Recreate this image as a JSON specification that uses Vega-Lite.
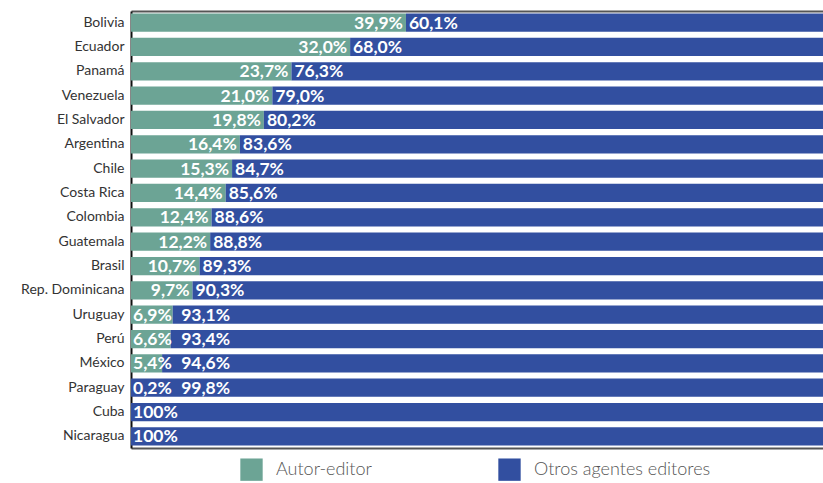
{
  "$schema": "https://vega.github.io/schema/vega-lite/v6.json",
  "width": 692,
  "height": 437,
  "autosize": "none",
  "padding": {"left": 131, "top": 11, "right": 0, "bottom": 35},
  "background": "white",
  "config": {
    "locale": {"number": {"decimal": ",", "thousands": ".", "grouping": [3], "currency": ["", " €"]}},
    "view": {"stroke": null},
    "font": "Lato"
  },
  "data": {
    "values": [
      {"pais": "Bolivia", "autor": 0.399, "otros": 0.601},
      {"pais": "Ecuador", "autor": 0.320, "otros": 0.680},
      {"pais": "Panamá", "autor": 0.237, "otros": 0.763},
      {"pais": "Venezuela", "autor": 0.210, "otros": 0.790},
      {"pais": "El Salvador", "autor": 0.198, "otros": 0.802},
      {"pais": "Argentina", "autor": 0.164, "otros": 0.836},
      {"pais": "Chile", "autor": 0.153, "otros": 0.847},
      {"pais": "Costa Rica", "autor": 0.144, "otros": 0.856},
      {"pais": "Colombia", "autor": 0.124, "otros": 0.886},
      {"pais": "Guatemala", "autor": 0.122, "otros": 0.888},
      {"pais": "Brasil", "autor": 0.107, "otros": 0.893},
      {"pais": "Rep. Dominicana", "autor": 0.097, "otros": 0.903},
      {"pais": "Uruguay", "autor": 0.069, "otros": 0.931},
      {"pais": "Perú", "autor": 0.066, "otros": 0.934},
      {"pais": "México", "autor": 0.054, "otros": 0.946},
      {"pais": "Paraguay", "autor": 0.002, "otros": 0.998},
      {"pais": "Cuba", "autor": 0, "otros": 1},
      {"pais": "Nicaragua", "autor": 0, "otros": 1}
    ]
  },
  "encoding": {
    "y": {
      "field": "pais",
      "type": "nominal",
      "sort": null,
      "scale": {"paddingInner": 0.25, "paddingOuter": 0.1},
      "axis": {
        "title": null,
        "ticks": false,
        "domainColor": "#111111",
        "domainWidth": 2,
        "labelFont": "Lato",
        "labelFontSize": 14,
        "labelColor": "#333333",
        "labelPadding": 7
      }
    }
  },
  "layer": [
    {
      "mark": {"type": "bar", "clip": true},
      "encoding": {
        "x": {
          "field": "autor",
          "type": "quantitative",
          "scale": {"domain": [0.01, 0.989], "nice": false, "zero": false},
          "axis": {"orient": "bottom", "title": null, "labels": false, "ticks": false, "grid": false, "domainColor": "#555555", "domainWidth": 2}
        },
        "x2": {"datum": 0},
        "color": {
          "datum": "Autor-editor",
          "type": "nominal",
          "scale": {"domain": ["Autor-editor", "Otros agentes editores"], "range": ["#6CA495", "#324FA0"]},
          "legend": {
            "title": null,
            "orient": "none",
            "direction": "horizontal",
            "legendX": 109,
            "legendY": 447,
            "symbolType": "square",
            "symbolSize": 500,
            "symbolStrokeWidth": 0,
            "labelFont": "Lato",
            "labelFontSize": 18,
            "labelFontWeight": 300,
            "labelColor": "#555555",
            "labelOffset": 13,
            "labelLimit": 0,
            "columnPadding": 126
          }
        }
      }
    },
    {
      "mark": {"type": "bar", "clip": true},
      "encoding": {
        "x": {
          "field": "autor",
          "type": "quantitative",
          "axis": {"orient": "top", "title": null, "labels": false, "ticks": false, "grid": false, "domainColor": "#555555", "domainWidth": 2}
        },
        "x2": {"datum": 1},
        "color": {"datum": "Otros agentes editores", "type": "nominal"}
      }
    },
    {
      "transform": [{"filter": "datum.autor >= 0.08"}],
      "mark": {"type": "text", "align": "right", "baseline": "middle", "dx": -3, "dy": 1, "font": "Lato", "fontSize": 17.5, "fontWeight": "bold", "color": "white"},
      "encoding": {
        "x": {"field": "autor", "type": "quantitative", "axis": null},
        "text": {"field": "autor", "type": "quantitative", "format": ".1%"}
      }
    },
    {
      "transform": [{"filter": "datum.autor > 0 && datum.autor < 0.08"}],
      "mark": {"type": "text", "align": "left", "baseline": "middle", "dx": 2, "dy": 1, "font": "Lato", "fontSize": 17.5, "fontWeight": "bold", "color": "white"},
      "encoding": {
        "x": {"datum": 0.01, "type": "quantitative", "axis": null},
        "text": {"field": "autor", "type": "quantitative", "format": ".1%"}
      }
    },
    {
      "transform": [{"filter": "datum.autor >= 0.08"}],
      "mark": {"type": "text", "align": "left", "baseline": "middle", "dx": 3, "dy": 1, "font": "Lato", "fontSize": 17.5, "fontWeight": "bold", "color": "white"},
      "encoding": {
        "x": {"field": "autor", "type": "quantitative", "axis": null},
        "text": {"field": "otros", "type": "quantitative", "format": ".1%"}
      }
    },
    {
      "transform": [{"filter": "datum.autor > 0 && datum.autor < 0.08"}],
      "mark": {"type": "text", "align": "left", "baseline": "middle", "dx": 0, "dy": 1, "font": "Lato", "fontSize": 17.5, "fontWeight": "bold", "color": "white"},
      "encoding": {
        "x": {"datum": 0.081, "type": "quantitative", "axis": null},
        "text": {"field": "otros", "type": "quantitative", "format": ".1%"}
      }
    },
    {
      "transform": [{"filter": "datum.autor == 0"}],
      "mark": {"type": "text", "align": "left", "baseline": "middle", "dx": 2, "dy": 1, "font": "Lato", "fontSize": 17.5, "fontWeight": "bold", "color": "white"},
      "encoding": {
        "x": {"datum": 0.01, "type": "quantitative", "axis": null},
        "text": {"field": "otros", "type": "quantitative", "format": ".0%"}
      }
    }
  ],
  "resolve": {"axis": {"x": "independent"}}
}
